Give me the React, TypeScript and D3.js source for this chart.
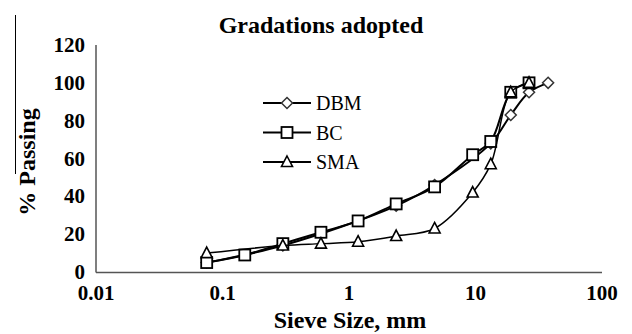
import * as d3 from "d3";

const sieveDBM = [0.075, 0.3, 2.36, 4.75, 13.2, 19, 26.5, 37.5];
const passDBM = [5, 14, 35, 46, 68, 83, 95, 100];

const sieveBC = [0.075, 0.15, 0.3, 0.6, 1.18, 2.36, 4.75, 9.5, 13.2, 19, 26.5];
const passBC = [5, 9, 15, 21, 27, 36, 45, 62, 69, 95, 100];

const sieveSMA = [0.075, 0.3, 0.6, 1.18, 2.36, 4.75, 9.5, 13.2, 19, 26.5];
const passSMA = [10, 14, 15, 16, 19, 23, 42, 57, 95, 100];

const xTicks = [0.01, 0.1, 1, 10, 100];
const yTicks = [0, 20, 40, 60, 80, 100, 120];

const W = 632;
const H = 334;
const font = "'Liberation Serif', 'Times New Roman', serif";

const x = d3.scaleLog().domain([0.01, 100]).range([96, 602]);
const y = d3.scaleLinear().domain([0, 120]).range([272, 45]);

type Pt = [number, number];
const series = [
  { name: "DBM", shape: "diamond", width: 2, pts: sieveDBM.map((s, i) => [s, passDBM[i]] as Pt) },
  { name: "BC", shape: "square", width: 2, pts: sieveBC.map((s, i) => [s, passBC[i]] as Pt) },
  { name: "SMA", shape: "triangle", width: 1.5, pts: sieveSMA.map((s, i) => [s, passSMA[i]] as Pt) },
];

const line = d3
  .line<Pt>()
  .x((d) => x(d[0]))
  .y((d) => y(d[1]))
  .curve(d3.curveCatmullRom.alpha(0.5));

function Marker({ shape, cx, cy }: { shape: string; cx: number; cy: number }) {
  if (shape === "diamond") {
    const r = 5.5;
    return (
      <path
        d={`M${cx},${cy - r}L${cx + r},${cy}L${cx},${cy + r}L${cx - r},${cy}Z`}
        fill="white"
        stroke="#333"
        strokeWidth={1.5}
      />
    );
  }
  if (shape === "square") {
    return <rect x={cx - 5.5} y={cy - 5.5} width={11} height={11} fill="white" stroke="#000" strokeWidth={1.8} />;
  }
  return (
    <path
      d={`M${cx},${cy - 6}L${cx + 5.5},${cy + 4.5}L${cx - 5.5},${cy + 4.5}Z`}
      fill="white"
      stroke="#000"
      strokeWidth={1.6}
    />
  );
}

export default function App() {
  return (
    <svg width={W} height={H} style={{ position: "absolute", left: 0, top: 0, background: "#fff" }}>
      <rect width={W} height={H} fill="#fff" />
      <line x1={15.5} x2={15.5} y1={15} y2={174} stroke="#000" strokeWidth={1} />

      <text x={321} y={33} textAnchor="middle" fontFamily={font} fontWeight="bold" fontSize={24}>
        Gradations adopted
      </text>

      {/* axes */}
      <line x1={96} x2={96} y1={45} y2={272.5} stroke="#555" strokeWidth={1.5} />
      <line x1={96} x2={602} y1={272.5} y2={272.5} stroke="#555" strokeWidth={1.5} />

      {yTicks.map((t) => (
        <text key={t} x={85} y={y(t) + 7} textAnchor="end" fontFamily={font} fontWeight="bold" fontSize={21}>
          {t}
        </text>
      ))}
      {xTicks.map((t) => (
        <text key={t} x={x(t)} y={300} textAnchor="middle" fontFamily={font} fontWeight="bold" fontSize={21}>
          {t}
        </text>
      ))}

      <text
        transform={`translate(35,162) rotate(-90)`}
        textAnchor="middle"
        fontFamily={font}
        fontWeight="bold"
        fontSize={24}
      >
        % Passing
      </text>
      <text x={350} y={328} textAnchor="middle" fontFamily={font} fontWeight="bold" fontSize={24}>
        Sieve Size, mm
      </text>

      {series.map((s) => (
        <g key={s.name}>
          <path d={line(s.pts) ?? ""} fill="none" stroke="#000" strokeWidth={s.width} />
          {s.pts.map((p, i) => (
            <Marker key={i} shape={s.shape} cx={x(p[0])} cy={y(p[1])} />
          ))}
        </g>
      ))}

      {/* legend */}
      {series.map((s, i) => {
        const ly = 103 + i * 29.5;
        return (
          <g key={s.name}>
            <line x1={263} x2={311} y1={ly} y2={ly} stroke="#000" strokeWidth={2} />
            <Marker shape={s.shape} cx={287} cy={ly} />
            <text x={316} y={ly + 7} fontFamily={font} fontSize={20}>
              {s.name}
            </text>
          </g>
        );
      })}
    </svg>
  );
}
